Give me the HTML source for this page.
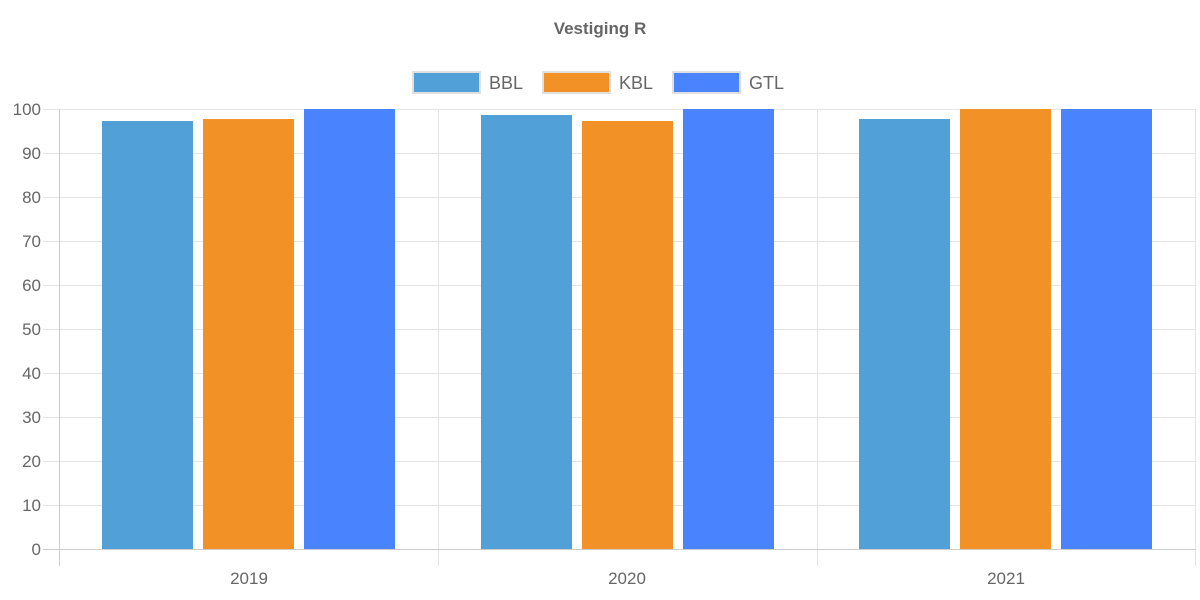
<!DOCTYPE html>
<html><head><meta charset="utf-8"><style>
html,body{margin:0;padding:0;background:#fff;}
svg{display:block;font-family:"Liberation Sans",Arial,sans-serif;}
</style></head><body>
<svg width="1200" height="600" viewBox="0 0 1200 600" xmlns="http://www.w3.org/2000/svg">
<text x="600" y="34" text-anchor="middle" font-size="17" font-weight="bold" fill="#666">Vestiging R</text>
<!-- legend -->
<rect x="413" y="72" width="67" height="21" fill="#52a0d8" stroke="#e0e0e0" stroke-width="2"/>
<text x="489" y="89" font-size="18" fill="#666">BBL</text>
<rect x="543" y="72" width="67" height="21" fill="#f29226" stroke="#e0e0e0" stroke-width="2"/>
<text x="619" y="89" font-size="18" fill="#666">KBL</text>
<rect x="673" y="72" width="67" height="21" fill="#4a83fe" stroke="#e0e0e0" stroke-width="2"/>
<text x="749" y="89" font-size="18" fill="#666">GTL</text>
<!-- grid -->
<g stroke="#e4e4e4" stroke-width="1">
<line x1="43" y1="109.5" x2="1195" y2="109.5"/>
<line x1="43" y1="153.5" x2="1195" y2="153.5"/>
<line x1="43" y1="197.5" x2="1195" y2="197.5"/>
<line x1="43" y1="241.5" x2="1195" y2="241.5"/>
<line x1="43" y1="285.5" x2="1195" y2="285.5"/>
<line x1="43" y1="329.5" x2="1195" y2="329.5"/>
<line x1="43" y1="373.5" x2="1195" y2="373.5"/>
<line x1="43" y1="417.5" x2="1195" y2="417.5"/>
<line x1="43" y1="461.5" x2="1195" y2="461.5"/>
<line x1="43" y1="505.5" x2="1195" y2="505.5"/>
<line x1="438.5" y1="109" x2="438.5" y2="566"/>
<line x1="817.5" y1="109" x2="817.5" y2="566"/>
<line x1="1195.5" y1="109" x2="1195.5" y2="566"/>
</g>
<line x1="59.5" y1="109" x2="59.5" y2="566" stroke="#ccc"/>
<line x1="43" y1="549.5" x2="1196" y2="549.5" stroke="#ccc"/>
<!-- y labels -->
<g font-size="17" fill="#666" text-anchor="end">
<text x="41" y="115">100</text><text x="41" y="159">90</text><text x="41" y="203">80</text>
<text x="41" y="247">70</text><text x="41" y="291">60</text><text x="41" y="335">50</text>
<text x="41" y="379">40</text><text x="41" y="423">30</text><text x="41" y="467">20</text>
<text x="41" y="511">10</text><text x="41" y="555">0</text>
</g>
<g font-size="17" fill="#666" text-anchor="middle">
<text x="249" y="584">2019</text><text x="627" y="584">2020</text><text x="1006" y="584">2021</text>
</g>
<!-- bars -->
<g>
<rect x="102" y="121" width="91" height="428" fill="#52a0d8"/>
<rect x="203" y="119" width="91" height="430" fill="#f29226"/>
<rect x="304" y="109" width="91" height="440" fill="#4a83fe"/>
<rect x="481" y="115" width="91" height="434" fill="#52a0d8"/>
<rect x="582" y="121" width="91" height="428" fill="#f29226"/>
<rect x="683" y="109" width="91" height="440" fill="#4a83fe"/>
<rect x="859" y="119" width="91" height="430" fill="#52a0d8"/>
<rect x="960" y="109" width="91" height="440" fill="#f29226"/>
<rect x="1061" y="109" width="91" height="440" fill="#4a83fe"/>
</g>
</svg>
</body></html>
